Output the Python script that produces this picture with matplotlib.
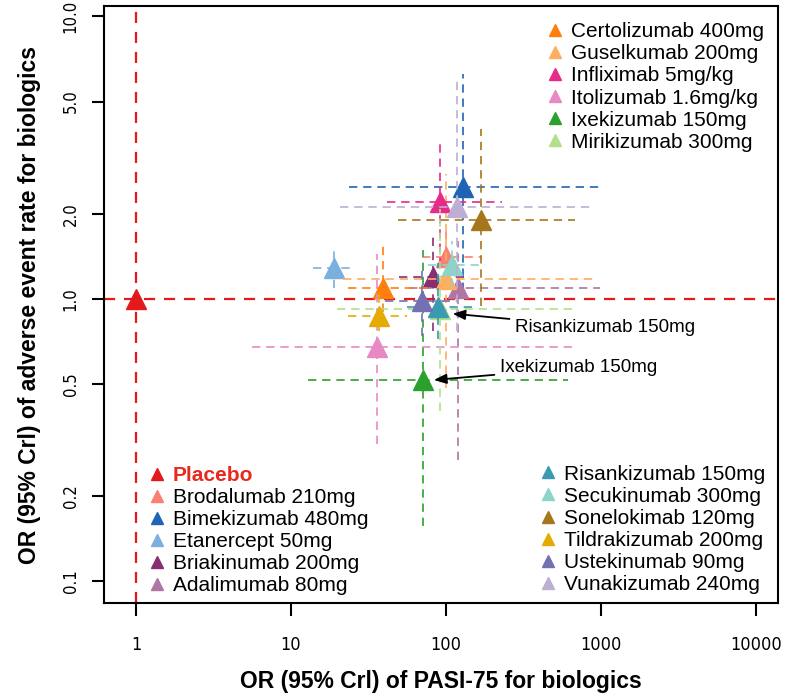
import numpy as np
import matplotlib.pyplot as plt
from matplotlib.lines import Line2D
from matplotlib.legend import Legend

plt.rcParams['font.family'] = ['Liberation Sans', 'DejaVu Sans']

# drug, colour, OR of PASI-75 (lo, hi), OR of adverse events (lo, hi)
drugs = ["Placebo", "Brodalumab 210mg", "Bimekizumab 480mg", "Etanercept 50mg",
         "Briakinumab 200mg", "Adalimumab 80mg",
         "Certolizumab 400mg", "Guselkumab 200mg", "Infliximab 5mg/kg",
         "Itolizumab 1.6mg/kg", "Ixekizumab 150mg", "Mirikizumab 300mg",
         "Risankizumab 150mg", "Secukinumab 300mg", "Sonelokimab 120mg",
         "Tildrakizumab 200mg", "Ustekinumab 90mg", "Vunakizumab 240mg"]
colors = ["#E31A1C", "#FB8072", "#1F64B4", "#7BAFDE", "#882E72", "#AE76A3",
          "#FF7F0E", "#FDAE61", "#E7298A", "#E78AC3", "#2CA02C", "#B2DF8A",
          "#3A9AB2", "#8DD3C7", "#A6761D", "#E6AB02", "#7570B3", "#BEAED4"]
pasi = [1, 100, 129, 18.9, 82, 119, 39, 100, 91.5, 35.9, 71, 91.5,
        88.8, 109, 168, 37, 69.7, 118]
pasi_lo = [1, 70, 23.7, 13.9, 50, 58, 23.3, 21.7, 41.6, 5.6, 12.9, 19.8,
           56, 76.5, 49, 23.3, 40.4, 20.7]
pasi_hi = [1, 171, 1000, 25.9, 143, 985, 80, 888, 230, 700, 612, 711,
           149, 179, 679, 56, 119, 888]
ae = [1, 1.41, 2.49, 1.29, 1.20, 1.09, 1.09, 1.18, 2.2, 0.676, 0.517, 0.922,
      0.937, 1.32, 1.90, 0.87, 0.98, 2.11]
ae_lo = [1, 1.15, 1.07, 1.09, 0.77, 0.27, 0.80, 0.484, 1.31, 0.307, 0.157, 0.40,
         0.72, 1.1, 0.945, 0.77, 0.74, 0.77]
ae_hi = [1, 1.75, 6.26, 1.49, 1.70, 1.6, 1.54, 2.77, 3.6, 1.44, 1.49, 2.08,
         1.34, 1.6, 4.0, 1.07, 1.26, 5.91]

x_ticks = [1, 10, 100, 1000, 10000]
y_ticks = [0.1, 0.2, 0.5, 1, 2, 5, 10]
y_tick_labels = ["0.1", "0.2", "0.5", "1.0", "2.0", "5.0", "10.0"]

dash = (0, (5, 3.5))

fig = plt.figure(figsize=(7.87, 6.99), dpi=100)
ax = fig.add_axes([0.1321, 0.1373, 0.8564, 0.8541])
ax.set_xscale("log")
ax.set_yscale("log")

# placebo reference lines
ax.axvline(pasi[0], color=colors[0], ls=(0, (5, 4)), lw=1.6)
ax.axhline(ae[0], color=colors[0], ls=(0, (5, 4)), lw=1.6)
ax.plot(pasi[0], ae[0], marker="^", ms=14, color=colors[0], ls="none")

for i in range(1, len(drugs)):
    c = colors[i]
    ax.plot([pasi_lo[i], pasi_hi[i]], [ae[i], ae[i]], color=c, ls=dash, lw=1.2)
    ax.plot([pasi[i], pasi[i]], [ae_lo[i], ae_hi[i]], color=c, ls=dash, lw=1.2)
    ax.plot(pasi[i], ae[i], marker="^", ms=14, color=c, ls="none")

ax.set_xlim(0.6217, 13868)
ax.set_ylim(0.0839, 10.89)
ax.set_xticks(x_ticks)
ax.set_xticklabels([str(t) for t in x_ticks], family="DejaVu Sans", stretch="condensed", fontsize=13)
ax.set_yticks(y_ticks)
ax.set_yticklabels(y_tick_labels, rotation=90, va="center", family="DejaVu Sans",
                   stretch="condensed", fontsize=12)
ax.minorticks_off()
ax.tick_params(axis="x", length=9, width=1.5, pad=14.5)
ax.tick_params(axis="y", length=9, width=1.5, pad=8.5)
for s in ax.spines.values():
    s.set_linewidth(1.5)

ax.set_xlabel("OR (95% Crl) of PASI-75 for biologics", fontsize=16.5, fontweight="bold", labelpad=12)
ax.set_ylabel("OR (95% Crl) of adverse event rate for biologics", fontsize=16.5, fontweight="bold", labelpad=15)

# annotations
arrow = dict(arrowstyle="-|>,head_length=0.55,head_width=0.22", color="black", lw=1.3,
             shrinkA=2, shrinkB=0)
ax.annotate("Risankizumab 150mg", xy=(110.5, 0.887), xytext=(279, 0.791),
            fontsize=13.5, ha="left", va="center", arrowprops=arrow)
ax.annotate("Ixekizumab 150mg", xy=(83.7, 0.517), xytext=(223, 0.571),
            fontsize=13.5, ha="left", va="center", arrowprops=arrow)


def make_legend(idx, anchor):
    handles = [Line2D([], [], marker="^", ms=8, color=colors[i], ls="none") for i in idx]
    leg = Legend(ax, handles, [drugs[i] for i in idx], loc="upper left", bbox_to_anchor=anchor,
                 frameon=False, fontsize=15, handlelength=0.75, handletextpad=0.4,
                 labelspacing=0.15, borderpad=0, borderaxespad=0)
    ax.add_artist(leg)
    return leg


make_legend(range(6, 12), (0.658, 0.973))
leg1 = make_legend(range(0, 6), (0.0668, 0.2298))
leg1.get_texts()[0].set_color("#E8291C")
leg1.get_texts()[0].set_fontweight("bold")
make_legend(range(12, 18), (0.6476, 0.2318))

fig.savefig("out.png", dpi=100)
